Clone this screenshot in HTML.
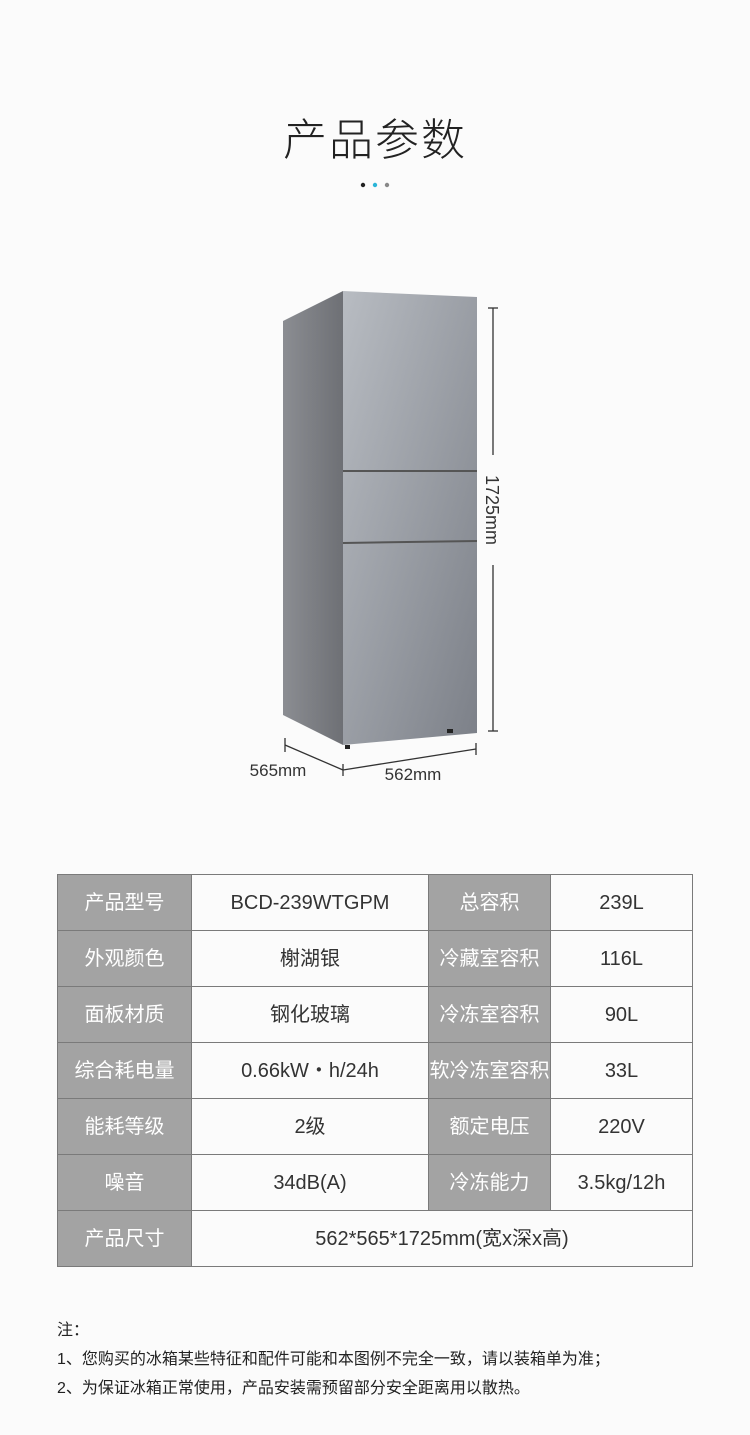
<!DOCTYPE html>
<html><head><meta charset="utf-8"><style>
body{margin:0;width:750px;height:1435px;background:#fbfbfb;font-family:"Liberation Sans","Noto Sans CJK SC",sans-serif;position:relative;overflow:hidden}
.t{position:absolute;left:0;width:750px;top:104px;text-align:center;font-size:44px;color:#222;letter-spacing:2px;font-weight:300}
table{position:absolute;left:57px;top:874px;width:636px;border-collapse:collapse}
td{border:1px solid #7a7a7a;height:55px;padding:0;text-align:center;font-size:20px;color:#333;line-height:1;vertical-align:middle}
td.g{background:#a3a3a3;color:#fff}
.n{position:absolute;left:57px;font-size:16px;color:#222}
</style></head><body>
<div class="t">产品参数</div>
<svg width="750" height="800" style="position:absolute;left:0;top:0">
<circle cx="363" cy="185" r="2.2" fill="#222"/><circle cx="375" cy="185" r="2.2" fill="#2bb5d8"/><circle cx="387" cy="185" r="2.2" fill="#888"/>
<defs>
<linearGradient id="s" x1="0" x2="1"><stop offset="0" stop-color="#8b8d92"/><stop offset="1" stop-color="#6e7075"/></linearGradient>
<linearGradient id="f" x1="0" y1="0" x2="1" y2="1"><stop offset="0" stop-color="#b8bcc2"/><stop offset="0.5" stop-color="#9a9ea5"/><stop offset="1" stop-color="#7c8088"/></linearGradient>
</defs>
<polygon points="283,321 343,291 343,745 283,715" fill="url(#s)"/>
<polygon points="343,291 477,297 477,733 343,745" fill="url(#f)"/>
<line x1="343" y1="471" x2="477" y2="471" stroke="#555" stroke-width="2"/>
<line x1="343" y1="543" x2="477" y2="541" stroke="#555" stroke-width="2"/>
<rect x="345" y="745" width="5" height="4" fill="#222"/><rect x="447" y="729" width="6" height="4" fill="#222"/>
<g stroke="#333" stroke-width="1.3" fill="none">
<line x1="493" y1="308" x2="493" y2="455"/><line x1="488" y1="308" x2="498" y2="308"/>
<line x1="493" y1="565" x2="493" y2="731"/><line x1="488" y1="731" x2="498" y2="731"/>
<line x1="285" y1="745" x2="343" y2="770"/><line x1="285" y1="738" x2="285" y2="752"/>
<line x1="343" y1="770" x2="476" y2="749"/><line x1="343" y1="764" x2="343" y2="776"/><line x1="476" y1="743" x2="476" y2="755"/>
</g>
<text x="278" y="776" font-size="17" fill="#333" text-anchor="middle" font-family="Liberation Sans">565mm</text>
<text x="413" y="780" font-size="17" fill="#333" text-anchor="middle" font-family="Liberation Sans">562mm</text>
<text transform="translate(486,510) rotate(90)" font-size="18" fill="#333" text-anchor="middle" font-family="Liberation Sans">1725mm</text>
</svg>
<table>
<tr><td class="g" style="width:133px">产品型号</td><td style="width:236px">BCD-239WTGPM</td><td class="g" style="width:121px">总容积</td><td>239L</td></tr>
<tr><td class="g">外观颜色</td><td>榭湖银</td><td class="g">冷藏室容积</td><td>116L</td></tr>
<tr><td class="g">面板材质</td><td>钢化玻璃</td><td class="g">冷冻室容积</td><td>90L</td></tr>
<tr><td class="g">综合耗电量</td><td>0.66kW・h/24h</td><td class="g">软冷冻室容积</td><td>33L</td></tr>
<tr><td class="g">能耗等级</td><td>2级</td><td class="g">额定电压</td><td>220V</td></tr>
<tr><td class="g">噪音</td><td>34dB(A)</td><td class="g">冷冻能力</td><td>3.5kg/12h</td></tr>
<tr><td class="g">产品尺寸</td><td colspan="3">562*565*1725mm(宽x深x高)</td></tr>
</table>
<div class="n" style="top:1316px">注：</div>
<div class="n" style="top:1345px">1、您购买的冰箱某些特征和配件可能和本图例不完全一致，请以装箱单为准；</div>
<div class="n" style="top:1374px">2、为保证冰箱正常使用，产品安装需预留部分安全距离用以散热。</div>
</body></html>
